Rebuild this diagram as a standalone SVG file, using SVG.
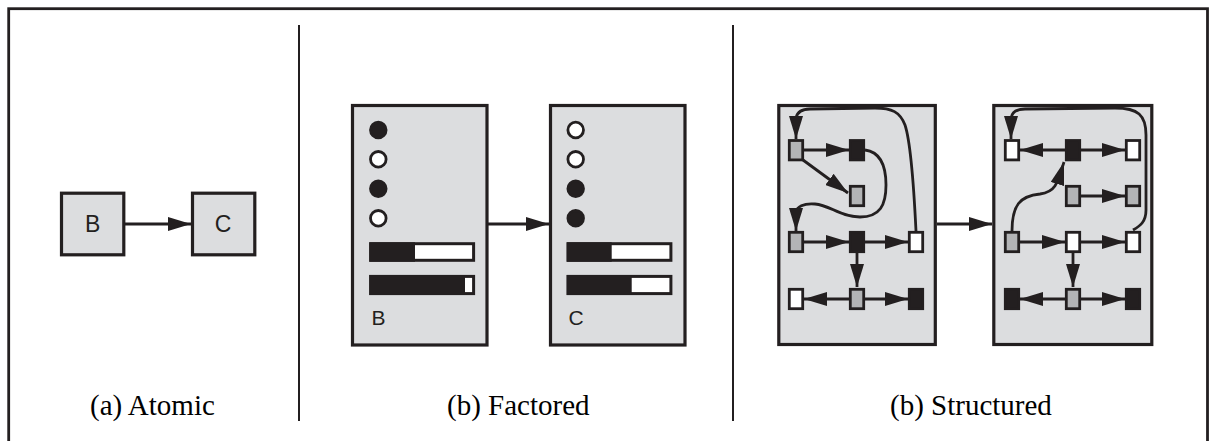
<svg xmlns="http://www.w3.org/2000/svg" width="1213" height="441" viewBox="0 0 1213 441">
<style>
.frame{fill:none;stroke:#231f20;stroke-width:2.8}
.div{stroke:#231f20;stroke-width:2}
.box{fill:#dcdddf;stroke:#231f20;stroke-width:3.2}
.n{stroke:#231f20;stroke-width:2.8}
.g{fill:#b3b4b6}
.k{fill:#231f20}
.w{fill:#ffffff}
.e{fill:none;stroke:#231f20;stroke-width:2.8}
.dark{fill:#231f20}
</style>
<defs>
<marker id="ah" markerUnits="userSpaceOnUse" markerWidth="23" markerHeight="14" refX="23" refY="7" orient="auto" viewBox="0 0 23 14">
<path d="M0,0 L23,7 L0,14 z" fill="#231f20"/>
</marker>
</defs>
<rect class="frame" x="8.7" y="8.7" width="1198.8" height="450"/>
<line class="div" x1="299" y1="25" x2="299" y2="421"/>
<line class="div" x1="733" y1="25" x2="733" y2="421"/>

<g id="atomic">
<g id="atomic-B"><rect class="box" x="61.5" y="193.2" width="62.3" height="61.6"/><text font-family="Liberation Sans" font-size="23" fill="#231f20" x="92.7" y="232" text-anchor="middle">B</text></g>
<g id="atomic-C"><rect class="box" x="192.5" y="193.2" width="62.3" height="61.6"/><text font-family="Liberation Sans" font-size="23" fill="#231f20" x="223" y="232" text-anchor="middle">C</text></g>
<text font-family="Liberation Serif" font-size="29" fill="#000000" x="90" y="415">(a) Atomic</text>
</g>

<g id="factored">
<g id="factored-B">
<rect class="box" x="352.5" y="105.5" width="134.5" height="239.5"/>
<circle class="n k" cx="378.3" cy="130" r="7.8"/>
<circle class="n w" cx="378.3" cy="159.3" r="7.8"/>
<circle class="n k" cx="378.3" cy="188.7" r="7.8"/>
<circle class="n w" cx="378.3" cy="218.3" r="7.8"/>
<rect class="w" x="370.7" y="243.7" width="102.9" height="16.6" stroke="#231f20" stroke-width="3"/>
<rect class="dark" x="369.3" y="242.3" width="45.7" height="19.4"/>
<rect class="w" x="370.7" y="276.4" width="102.9" height="17.2" stroke="#231f20" stroke-width="3"/>
<rect class="dark" x="369.3" y="275" width="95.7" height="20"/>
<text font-family="Liberation Sans" font-size="21" fill="#231f20" x="371.5" y="324.5">B</text>
</g>
<g id="factored-C">
<rect class="box" x="550.5" y="105.5" width="134.5" height="239.5"/>
<circle class="n w" cx="575.7" cy="130" r="7.8"/>
<circle class="n w" cx="575.7" cy="159.3" r="7.8"/>
<circle class="n k" cx="575.7" cy="188.7" r="7.8"/>
<circle class="n k" cx="575.7" cy="218.3" r="7.8"/>
<rect class="w" x="568.1" y="243.7" width="102.8" height="16.6" stroke="#231f20" stroke-width="3"/>
<rect class="dark" x="566.7" y="242.3" width="45" height="19.4"/>
<rect class="w" x="568.1" y="276.4" width="102.8" height="17.2" stroke="#231f20" stroke-width="3"/>
<rect class="dark" x="566.7" y="275" width="65" height="20"/>
<text font-family="Liberation Sans" font-size="21" fill="#231f20" x="568.5" y="324.5">C</text>
</g>
<text font-family="Liberation Serif" font-size="29" fill="#000000" x="447" y="415">(b) Factored</text>
</g>

<g id="structured">
<g id="structured-left">
<rect class="box" x="778.8" y="105.5" width="156.5" height="239"/>
<rect class="n g" x="789.3" y="140.5" width="13.4" height="19.4"/>
<rect class="n k" x="850.3" y="140.5" width="13.4" height="19.4"/>
<rect class="n g" x="850.3" y="186.3" width="13.4" height="19.4"/>
<rect class="n g" x="789.3" y="232.3" width="13.4" height="19.4"/>
<rect class="n k" x="850.3" y="232.3" width="13.4" height="19.4"/>
<rect class="n w" x="909.3" y="232.3" width="13.4" height="19.4"/>
<rect class="n w" x="789.3" y="289.3" width="13.4" height="19.4"/>
<rect class="n g" x="850.3" y="289.3" width="13.4" height="19.4"/>
<rect class="n k" x="909.3" y="289.3" width="13.4" height="19.4"/>
</g>
<g id="structured-right">
<rect class="box" x="993.8" y="105.5" width="158" height="239"/>
<rect class="n w" x="1005.3" y="140.5" width="13.4" height="19.4"/>
<rect class="n k" x="1066.3" y="140.5" width="13.4" height="19.4"/>
<rect class="n w" x="1126.3" y="140.5" width="13.4" height="19.4"/>
<rect class="n g" x="1066.3" y="186.3" width="13.4" height="19.4"/>
<rect class="n g" x="1126.3" y="186.3" width="13.4" height="19.4"/>
<rect class="n g" x="1005.3" y="232.3" width="13.4" height="19.4"/>
<rect class="n w" x="1066.3" y="232.3" width="13.4" height="19.4"/>
<rect class="n w" x="1126.3" y="232.3" width="13.4" height="19.4"/>
<rect class="n k" x="1005.3" y="289.3" width="13.4" height="19.4"/>
<rect class="n g" x="1066.3" y="289.3" width="13.4" height="19.4"/>
<rect class="n k" x="1126.3" y="289.3" width="13.4" height="19.4"/>
</g>
<text font-family="Liberation Serif" font-size="29" fill="#000000" x="890" y="415">(b) Structured</text>
</g>

<g id="connectors">
<path class="e" d="M125,224 L191,224" marker-end="url(#ah)"/>
<path class="e" d="M488,224 L549,224" marker-end="url(#ah)"/>
<path class="e" d="M937,224 L992,224" marker-end="url(#ah)"/>
<path class="e" d="M804,150 L849,150" marker-end="url(#ah)"/>
<path class="e" d="M803,160 L848,193" marker-end="url(#ah)"/>
<path class="e" d="M865,150 C880,152 886,165 886,185 C886,205 880,217 860,217 C840,217 830,205 815,204 C803,203 797,207 796,212 L796,231" marker-end="url(#ah)"/>
<path class="e" d="M916,231 C914,190 910,140 905,125 C900,112 892,108 875,108 L810,109 C800,109 797,113 796,118 L796,139" marker-end="url(#ah)"/>
<path class="e" d="M804,242 L849,242" marker-end="url(#ah)"/>
<path class="e" d="M865,242 L908,242" marker-end="url(#ah)"/>
<path class="e" d="M857,253 L857,287" marker-end="url(#ah)"/>
<path class="e" d="M849,299 L804,299" marker-end="url(#ah)"/>
<path class="e" d="M865,299 L908,299" marker-end="url(#ah)"/>
<path class="e" d="M1065,150 L1020,150" marker-end="url(#ah)"/>
<path class="e" d="M1081,150 L1125,150" marker-end="url(#ah)"/>
<path class="e" d="M1081,196 L1125,196" marker-end="url(#ah)"/>
<path class="e" d="M1020,242 L1065,242" marker-end="url(#ah)"/>
<path class="e" d="M1081,242 L1125,242" marker-end="url(#ah)"/>
<path class="e" d="M1073,253 L1073,287" marker-end="url(#ah)"/>
<path class="e" d="M1065,299 L1020,299" marker-end="url(#ah)"/>
<path class="e" d="M1081,299 L1125,299" marker-end="url(#ah)"/>
<path class="e" d="M1012,231 C1012,205 1020,196 1040,194 C1055,192 1057,185 1064,162" marker-end="url(#ah)"/>
<path class="e" d="M1133,230 C1140,226 1146,222 1146,210 L1146,135 C1146,115 1138,108 1115,108 L1025,109 C1015,109 1012,113 1011,118 L1011,139" marker-end="url(#ah)"/>
</g>
</svg>
